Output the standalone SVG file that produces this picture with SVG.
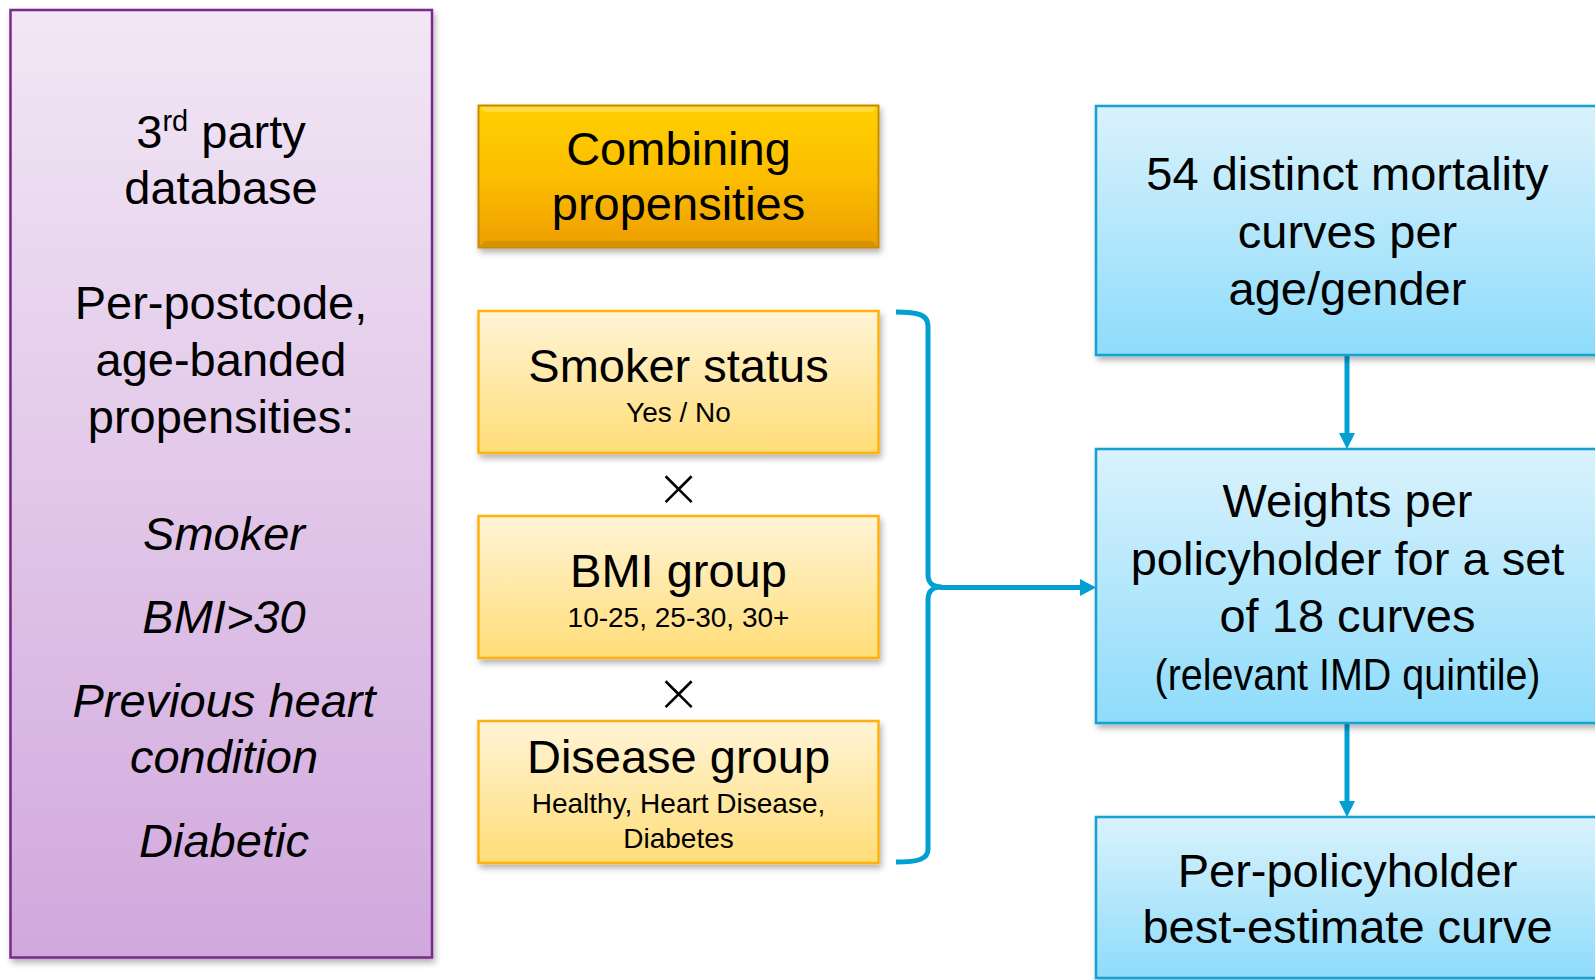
<svg xmlns="http://www.w3.org/2000/svg" width="1595" height="980" viewBox="0 0 1595 980">
<style>
  text { font-family: "Liberation Sans", Arial, sans-serif; fill: #000; text-anchor: middle; }
  .big { font-size: 47px; }
  .it { font-size: 47px; font-style: italic; }
  .small { font-size: 28px; }
  .times { font-size: 54px; font-family: "DejaVu Sans", "Liberation Sans", sans-serif; font-weight: 200; }
  .purple { fill: url(#gPurple); stroke: #7A2A8C; stroke-width: 2.5; }
  .gold { fill: url(#gGold); stroke: #C98A00; stroke-width: 2; }
  .yellow { fill: url(#gYellow); stroke: #FFB210; stroke-width: 2.5; }
  .blue { fill: url(#gBlue); stroke: #12A0D4; stroke-width: 2.5; }
  .conn { fill: none; stroke: #00A0D2; stroke-width: 5; }
  .head { fill: #00A0D2; }
</style>
<defs>
  <linearGradient id="gPurple" x1="0" y1="0" x2="0" y2="1">
    <stop offset="0" stop-color="#F2E7F5"/>
    <stop offset="1" stop-color="#D1A8DD"/>
  </linearGradient>
  <linearGradient id="gGold" x1="0" y1="0" x2="0" y2="1">
    <stop offset="0" stop-color="#FFD000"/>
    <stop offset="0.5" stop-color="#FBBE00"/>
    <stop offset="1" stop-color="#EE9E00"/>
  </linearGradient>
  <linearGradient id="gYellow" x1="0" y1="0" x2="0" y2="1">
    <stop offset="0" stop-color="#FFF4D6"/>
    <stop offset="1" stop-color="#FFDD78"/>
  </linearGradient>
  <linearGradient id="gBlue" x1="0" y1="0" x2="0" y2="1">
    <stop offset="0" stop-color="#DAF2FC"/>
    <stop offset="1" stop-color="#8EDCFB"/>
  </linearGradient>
  <filter id="shadow" x="-5%" y="-5%" width="115%" height="120%">
    <feDropShadow dx="2" dy="4" stdDeviation="3" flood-color="#000" flood-opacity="0.3"/>
  </filter>
</defs>

<g id="connectors">
  <path class="conn" d="M896,312 C919,312 928,315 928,326 L928,574 C928,583 932,587 942,587 C932,587 928,591 928,600 L928,849 C928,859 919,862 896,862"/>
  <line class="conn" x1="940" y1="587.5" x2="1082" y2="587.5"/>
  <polygon class="head" points="1080,579 1096,587.5 1080,596"/>
  <line class="conn" x1="1347" y1="356" x2="1347" y2="436"/>
  <polygon class="head" points="1339,433 1347,449 1355,433"/>
  <line class="conn" x1="1347" y1="723" x2="1347" y2="804"/>
  <polygon class="head" points="1339,801 1347,817 1355,801"/>
</g>

<g id="database" filter="url(#shadow)">
  <rect class="purple" x="10.5" y="10" width="421.5" height="947.5"/>
</g>
<g id="database-text">
  <text class="big" x="221" y="147.5">3<tspan font-size="29" dy="-17">rd</tspan><tspan dy="17"> party</tspan></text>
  <text class="big" x="221" y="204">database</text>
  <text class="big" x="221" y="319">Per-postcode,</text>
  <text class="big" x="221" y="376">age-banded</text>
  <text class="big" x="221" y="433">propensities:</text>
  <text class="it" x="224" y="550">Smoker</text>
  <text class="it" x="224" y="633">BMI&gt;30</text>
  <text class="it" x="224" y="716.5">Previous heart</text>
  <text class="it" x="224" y="773">condition</text>
  <text class="it" x="224" y="857">Diabetic</text>
</g>

<g id="combining">
  <rect class="gold" x="478.5" y="105.5" width="400" height="142" filter="url(#shadow)"/>
  <path d="M480,107 L877,107 L872,112 L485,112 Z" fill="#FFE566" opacity="0.6"/>
  <path d="M480,246 L877,246 L872,241 L485,241 Z" fill="#B07800" opacity="0.35"/>
  <text class="big" x="678.5" y="165">Combining</text>
  <text class="big" x="678.5" y="220">propensities</text>
</g>

<g id="smoker">
  <rect class="yellow" x="478.5" y="311" width="400" height="142" filter="url(#shadow)"/>
  <text class="big" x="678.5" y="381.5">Smoker status</text>
  <text class="small" x="678.5" y="421.5">Yes / No</text>
</g>

<g id="times1">
  <text class="times" x="678.5" y="506">×</text>
</g>

<g id="bmi">
  <rect class="yellow" x="478.5" y="516" width="400" height="142" filter="url(#shadow)"/>
  <text class="big" x="678.5" y="586.5">BMI group</text>
  <text class="small" x="678.5" y="626.5">10-25, 25-30, 30+</text>
</g>

<g id="times2">
  <text class="times" x="678.5" y="711">×</text>
</g>

<g id="disease">
  <rect class="yellow" x="478.5" y="721" width="400" height="142" filter="url(#shadow)"/>
  <text class="big" x="678.5" y="773">Disease group</text>
  <text class="small" x="678.5" y="813">Healthy, Heart Disease,</text>
  <text class="small" x="678.5" y="848">Diabetes</text>
</g>

<g id="curves54">
  <rect class="blue" x="1096" y="106" width="504" height="249" filter="url(#shadow)"/>
  <text class="big" x="1347.5" y="190">54 distinct mortality</text>
  <text class="big" x="1347.5" y="248">curves per</text>
  <text class="big" x="1347.5" y="305">age/gender</text>
</g>

<g id="weights">
  <rect class="blue" x="1096" y="449" width="504" height="274" filter="url(#shadow)"/>
  <text class="big" x="1347.5" y="517">Weights per</text>
  <text class="big" x="1347.5" y="575">policyholder for a set</text>
  <text class="big" x="1347.5" y="632">of 18 curves</text>
  <text x="1347.5" y="690" font-size="44" textLength="386" lengthAdjust="spacingAndGlyphs">(relevant IMD quintile)</text>
</g>

<g id="best-estimate">
  <rect class="blue" x="1096" y="817" width="504" height="161" filter="url(#shadow)"/>
  <text class="big" x="1347.5" y="886.5">Per-policyholder</text>
  <text class="big" x="1347.5" y="943">best-estimate curve</text>
</g>
</svg>
